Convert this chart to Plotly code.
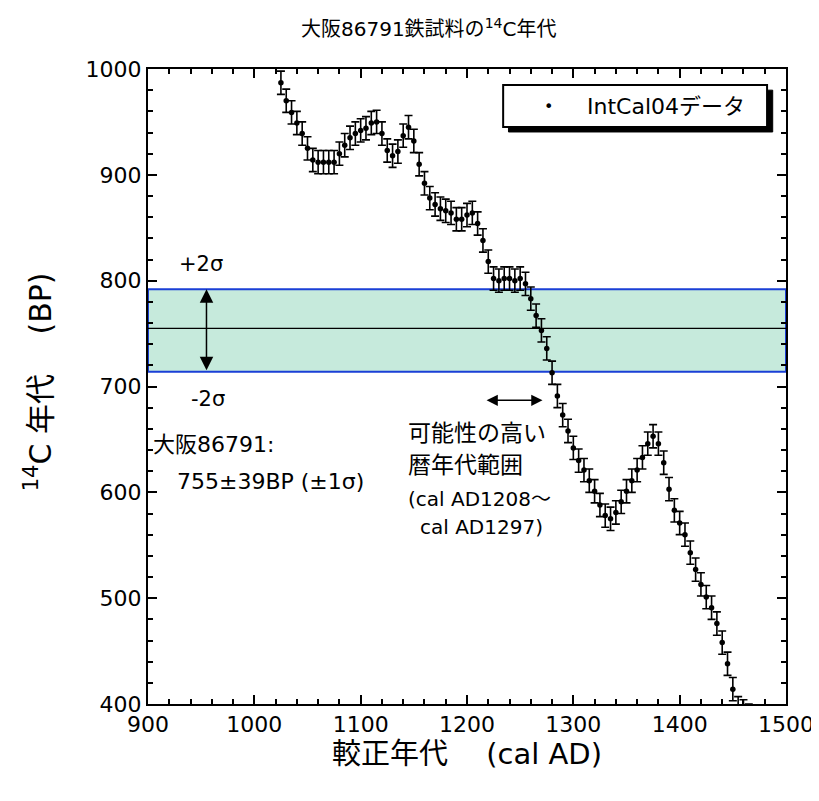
import plotly.graph_objects as go

years = [1025, 1030, 1035, 1040, 1045, 1050, 1055, 1060, 1065, 1070, 1075, 1080, 1085, 1090,
         1095, 1100, 1105, 1110, 1115, 1120, 1125, 1130, 1135, 1140, 1145, 1150, 1155, 1160,
         1165, 1170, 1175, 1180, 1185, 1190, 1195, 1200, 1205, 1210, 1215, 1220, 1225, 1230,
         1235, 1240, 1245, 1250, 1255, 1260, 1265, 1270, 1275, 1280, 1285, 1290, 1295, 1300,
         1305, 1310, 1315, 1320, 1325, 1330, 1335, 1340, 1345, 1350, 1355, 1360, 1365, 1370,
         1375, 1380, 1385, 1390, 1395, 1400, 1405, 1410, 1415, 1420, 1425, 1430, 1435, 1440,
         1445, 1450, 1455, 1460, 1465]
bp = [987, 970, 959, 949, 939, 925, 914, 912, 912, 912, 912, 920, 928, 935,
      939, 942, 944, 949, 950, 939, 923, 918, 922, 937, 945, 932, 910, 892,
      878, 872, 868, 866, 864, 858, 858, 862, 864, 854, 838, 818, 802, 800,
      802, 802, 800, 802, 797, 783, 767, 753, 736, 713, 691, 673, 658, 642,
      630, 621, 611, 601, 588, 578, 575, 581, 591, 601, 611, 621, 633, 646,
      653, 646, 628, 603, 583, 571, 560, 543, 527, 513, 501, 491, 476, 458,
      438, 414, 396, 393, 389]
err = [11, 11, 11, 11, 11, 11, 11, 11, 11, 11, 11, 11, 11, 11,
       11, 11, 11, 11, 11, 11, 11, 11, 11, 11, 11, 11, 11, 11,
       11, 11, 11, 11, 11, 11, 11, 11, 11, 11, 11, 11, 11, 11,
       11, 11, 11, 11, 11, 11, 11, 11, 11, 11, 11, 11, 11, 11,
       11, 11, 11, 11, 11, 11, 11, 11, 11, 11, 11, 11, 11, 11,
       11, 11, 11, 11, 11, 11, 11, 11, 11, 11, 11, 11, 11, 11,
       11, 11, 11, 11, 11]

sample_age = 755
band_low = 714
band_high = 792
range_start = 1217
range_end = 1271

FONT = "DejaVu Sans, Noto Sans CJK JP, sans-serif"

fig = go.Figure()

fig.add_trace(go.Scatter(
    x=years, y=bp, mode="markers", name="IntCal04データ",
    marker=dict(color="black", size=5.5),
    error_y=dict(type="data", array=err, color="black", thickness=1.6, width=4),
    showlegend=False,
))

shapes = [
    dict(type="rect", xref="x", yref="y", x0=900, x1=1500, y0=band_low, y1=band_high,
         fillcolor="#C6EADC", line=dict(color="#1A3FD6", width=2), layer="below"),
    dict(type="line", xref="x", yref="y", x0=900, x1=1500, y0=sample_age, y1=sample_age,
         line=dict(color="black", width=1.2), layer="below"),
    # legend box shadow
    dict(type="rect", xref="x", yref="y", x0=1239, x1=1487.5, y0=940.5, y1=980,
         fillcolor="black", line=dict(color="black", width=1), layer="above"),
    dict(type="rect", xref="x", yref="y", x0=1234, x1=1482.2, y0=945.2, y1=984.9,
         fillcolor="white", line=dict(color="black", width=2), layer="above"),
]

annotations = [
    dict(text="大阪86791鉄試料の<sup>14</sup>C年代", xref="paper", yref="paper",
         x=0.44, y=1.0646, xanchor="center", yanchor="middle", showarrow=False,
         font=dict(size=20, color="black", family=FONT)),
    dict(text="<sup>14</sup>C 年代　 (BP)", xref="paper", yref="paper",
         x=-0.172, y=0.507, textangle=-90, xanchor="center", yanchor="middle", showarrow=False,
         font=dict(size=30, color="black", family=FONT)),
    dict(text="較正年代　 (cal AD)", xref="paper", yref="paper",
         x=0.5, y=-0.078, xanchor="center", yanchor="middle", showarrow=False,
         font=dict(size=29, color="black", family=FONT)),
    # legend content
    dict(text="•", xref="x", yref="y", x=1277, y=965, xanchor="center", yanchor="middle",
         showarrow=False, font=dict(size=16, color="black", family=FONT)),
    dict(text="IntCal04データ", xref="x", yref="y", x=1311, y=965, xanchor="left", yanchor="middle",
         showarrow=False, font=dict(size=22, color="black", family=FONT)),
    # sigma labels
    dict(text="+2σ", xref="x", yref="y", x=950, y=816, xanchor="center", yanchor="middle",
         showarrow=False, font=dict(size=21, color="black", family=FONT)),
    dict(text="-2σ", xref="x", yref="y", x=956, y=688, xanchor="center", yanchor="middle",
         showarrow=False, font=dict(size=21, color="black", family=FONT)),
    # sample text
    dict(text="大阪86791:", xref="x", yref="y", x=903, y=645, xanchor="left", yanchor="middle",
         showarrow=False, font=dict(size=22, color="black", family=FONT)),
    dict(text="755±39BP (±1σ)", xref="x", yref="y", x=925, y=610, xanchor="left", yanchor="middle",
         showarrow=False, font=dict(size=22, color="black", family=FONT)),
    # probable range text
    dict(text="可能性の高い", xref="x", yref="y", x=1143, y=656, xanchor="left", yanchor="middle",
         showarrow=False, font=dict(size=23, color="black", family=FONT)),
    dict(text="暦年代範囲", xref="x", yref="y", x=1143, y=626, xanchor="left", yanchor="middle",
         showarrow=False, font=dict(size=23, color="black", family=FONT)),
    dict(text="(cal AD1208～", xref="x", yref="y", x=1143, y=594, xanchor="left", yanchor="middle",
         showarrow=False, font=dict(size=20, color="black", family=FONT)),
    dict(text="cal AD1297)", xref="x", yref="y", x=1214, y=567, xanchor="center", yanchor="middle",
         showarrow=False, font=dict(size=20, color="black", family=FONT)),
    # vertical double arrow
    dict(x=955, y=band_high, ax=955, ay=band_low, xref="x", yref="y", axref="x", ayref="y",
         text="", showarrow=True, arrowhead=2, startarrowhead=2, arrowside="end+start",
         arrowsize=1.8, startarrowsize=1.8, arrowwidth=1.5, arrowcolor="black"),
    # horizontal double arrow
    dict(x=range_end, y=687, ax=range_start, ay=687, xref="x", yref="y", axref="x", ayref="y",
         text="", showarrow=True, arrowhead=2, startarrowhead=2, arrowside="end+start",
         arrowsize=1.5, startarrowsize=1.5, arrowwidth=1.5, arrowcolor="black"),
]

axis_common = dict(
    showline=True, linecolor="black", linewidth=2, mirror="ticks",
    ticks="inside", ticklen=9, tickwidth=1.5, tickcolor="black",
    showgrid=False, zeroline=False,
    tickfont=dict(size=22, color="black", family=FONT),
    minor=dict(ticks="inside", ticklen=5, tickwidth=1.5, tickcolor="black", dtick=20, showgrid=False),
)

fig.update_layout(
    width=819, height=801,
    margin=dict(l=140, r=41, t=61, b=105),
    paper_bgcolor="white", plot_bgcolor="white",
    font=dict(family=FONT, color="black"),
    xaxis=dict(range=[900, 1500], dtick=100, tick0=900, automargin=False, **axis_common),
    yaxis=dict(range=[400, 1000], dtick=100, tick0=400, automargin=False, **axis_common),
    shapes=shapes, annotations=annotations,
    showlegend=False,
)

fig.write_html("out.html")
